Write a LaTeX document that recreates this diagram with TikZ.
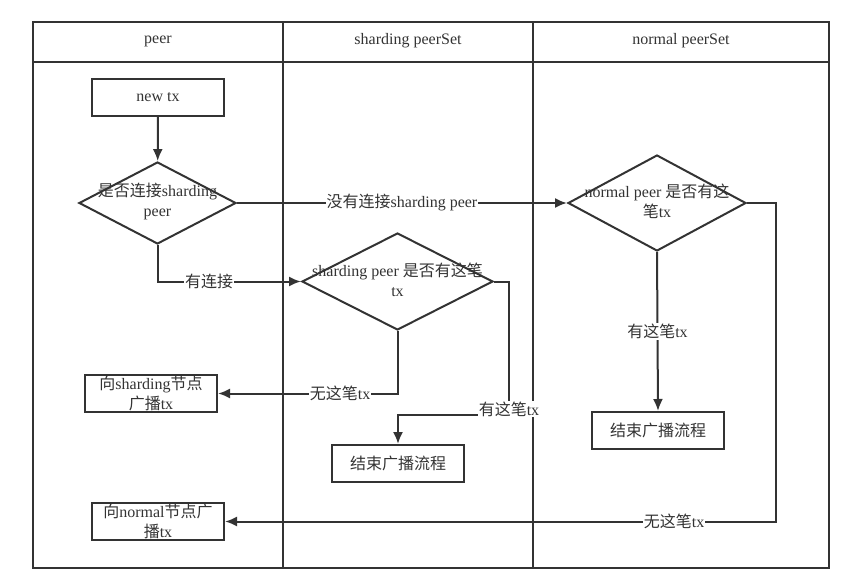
\documentclass[tikz,border=0pt]{standalone}
\usepackage{fontspec}
\setmainfont{Liberation Serif}
\newfontfamily\cjk{Noto Sans CJK SC}
\usetikzlibrary{shapes.geometric,arrows.meta}
\definecolor{ln}{HTML}{333333}
\begin{document}
\begin{tikzpicture}[x=1pt,y=-1pt,
  font=\fontsize{16}{20}\selectfont,
  every node/.style={text=ln},
  box/.style={draw=ln,line width=2pt,minimum width=132pt,minimum height=37pt,inner sep=0pt,align=center},
  dia/.style={draw=ln,line width=2pt,diamond,inner sep=0pt},
  txt/.style={align=center,inner sep=0pt},
  arr/.style={draw=ln,line width=2pt,-{Latex[length=12pt,width=10pt]}},
  lbl/.style={fill=white,inner sep=1pt}]
\useasboundingbox (0,0) rectangle (858,588);
% lanes
\draw[ln,line width=2pt] (33,22) rectangle (829,568);
\draw[ln,line width=2pt] (33,62) -- (829,62);
\draw[ln,line width=2pt] (283,22) -- (283,568);
\draw[ln,line width=2pt] (533,22) -- (533,568);
\node[txt] (h1) at (158,41) {peer};
\node[txt] (h2) at (408,41) {sharding peerSet};
\node[txt] (h3) at (681,41) {normal peerSet};
% nodes
\node[box] (nt) at (158,97.5) {new tx};
\node[dia,minimum width=157pt,minimum height=82pt] (d1) at (157.5,203) {};
\node[txt] (d1t) at (157.5,201) {{\cjk 是否连接}sharding\\peer};
\node[dia,minimum width=191pt,minimum height=97pt] (d2) at (397.5,281.5) {};
\node[txt] (d2t) at (397.5,280) {sharding peer {\cjk 是否有这笔}\\tx};
\node[dia,minimum width=178pt,minimum height=96pt] (d3) at (657,203) {};
\node[txt] (d3t) at (657,201) {normal peer {\cjk 是否有这}\\{\cjk 笔}tx};
\node[box] (b1) at (151,393.5) {{\cjk 向}sharding{\cjk 节点}\\{\cjk 广播}tx};
\node[box] (b2) at (398,463.5) {\cjk 结束广播流程};
\node[box] (b3) at (658,430.5) {\cjk 结束广播流程};
\node[box] (b4) at (158,521.5) {{\cjk 向}normal{\cjk 节点广}\\{\cjk 播}tx};
\coordinate (c1) at (509,281.5);
\coordinate (c2) at (509,415);
\coordinate (c3) at (398,415);
\coordinate (c4) at (776,203);
\coordinate (c5) at (776,521.5);
% connectors
\draw[arr] (nt) -- (d1);
\draw[arr] (d1.east) -- node[lbl] {{\cjk 没有连接}sharding peer} (d3.west);
\draw[arr] (d1.south) |- node[lbl,pos=0.68] {\cjk 有连接} (d2.west);
\draw[arr] (d2.south) |- node[lbl,pos=0.66] {{\cjk 无这笔}tx} (b1.east);
\draw[arr] (d2.east) -- (c1) -- node[lbl,pos=0.955] {{\cjk 有这笔}tx} (c2) -- (c3) -- (b2.north);
\draw[arr] (d3.south) -- node[lbl] {{\cjk 有这笔}tx} (b3.north);
\draw[arr] (d3.east) -- (c4) -- (c5) -- node[lbl,pos=0.185] {{\cjk 无这笔}tx} (b4.east);
\end{tikzpicture}
\end{document}
